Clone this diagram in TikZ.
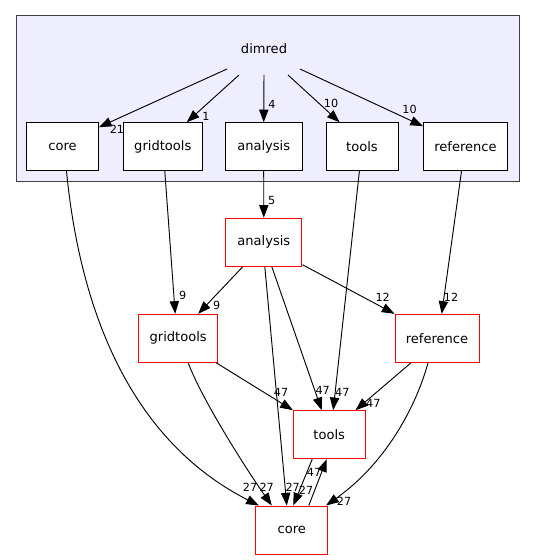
\documentclass[tikz,border=0pt]{standalone}
\usepackage{fontspec}
\setmainfont{DejaVu Sans}
\usetikzlibrary{arrows.meta,calc}
\definecolor{clfill}{HTML}{EEEEFF}
\definecolor{clline}{HTML}{404040}
\begin{document}
\begin{tikzpicture}[x=0.75pt,y=-0.75pt,
  inbox/.style={draw=black,fill=white,line width=0.75pt,inner sep=0pt,minimum height=36pt,font=\fontsize{9.8}{12}\selectfont},
  outbox/.style={draw=red,fill=white,line width=0.75pt,inner sep=0pt,minimum height=36pt,font=\fontsize{9.8}{12}\selectfont},
  edge/.style={draw=black,line width=0.7pt,-{Triangle[length=9.5pt,width=7pt]}},
  lbl/.style={inner sep=0pt,font=\fontsize{8.4}{10}\selectfont}]
\useasboundingbox (0,0) rectangle (535,560);
% cluster
\node[draw=clline,fill=clfill,line width=0.75pt,inner sep=0pt,minimum width=377.25pt,minimum height=123.75pt] (cluster) at (267.5,98.5) {};
\node[inner sep=0pt,font=\fontsize{9.8}{12}\selectfont] (dimred) at (264,49) {dimred};
% inner nodes
\node[inbox,minimum width=53.75pt] (icore) at (62.5,146.7) {core};
\node[inbox,minimum width=59.25pt] (igrid) at (162.8,146.7) {gridtools};
\node[inbox,minimum width=57.6pt] (iana) at (263.7,146.7) {analysis};
\node[inbox,minimum width=54pt] (itools) at (362,146.7) {tools};
\node[inbox,minimum width=63pt] (iref) at (465.5,146.7) {reference};
% outer nodes
\node[outbox,minimum width=57.2pt] (oana) at (263.8,242.2) {analysis};
\node[outbox,minimum width=59.25pt] (ogrid) at (178.2,338.3) {gridtools};
\node[outbox,minimum width=63pt] (oref) at (437,338.3) {reference};
\node[outbox,minimum width=53.75pt] (otools) at (329.2,434.7) {tools};
\node[outbox,minimum width=53.75pt] (ocore) at (291.8,530) {core};
% edges from dimred
\draw[edge] ($(dimred)+(-37,20)$) -- ($(icore.north east)+(0,5)$);
\draw[edge] ($(dimred)+(-25,26)$) -- ($(igrid.north)+(24,0)$);
\draw[edge] ($(dimred)+(0,26)$) -- (iana.north);
\draw[edge] ($(dimred)+(24,26)$) -- ($(itools.north)+(-22.4,0)$);
\draw[edge] ($(dimred)+(36,20)$) -- ($(iref.north west)+(0,4)$);
\node[lbl] (l21) at (117,129) {21};
\node[lbl] (l1) at (206,116) {1};
\node[lbl] (l4) at (272,104) {4};
\node[lbl] (l10a) at (331,103) {10};
\node[lbl] (l10b) at (409.6,109) {10};
% inner to outer
\draw[edge] (iana.south) -- (oana.north);
\node[lbl] (l5) at (271.7,200) {5};
\draw[edge] ($(igrid.south)+(2,0)$) -- ($(ogrid.north)+(-3,0)$);
\node[lbl] (l9a) at (182.7,295) {9};
\draw[edge] ($(iref.south)+(-4,0)$) -- ($(oref.north)+(4.7,0)$);
\node[lbl] (l12b) at (451,297.7) {12};
\draw[edge] ($(itools.south)+(-2.6,0)$) -- ($(otools.north)+(4,0)$);
\node[lbl] (l47c) at (342.3,392.7) {47};
\draw[edge] ($(icore.south)+(4,0)$) .. controls (80,310) and (130,440) .. ($(ocore.north)+(-33,0)$);
\node[lbl] (l27a) at (250,487.3) {27};
% outer analysis edges
\draw[edge] ($(oana.south)+(-21,0)$) -- ($(ogrid.north)+(20,0)$);
\node[lbl] (l9b) at (216.7,305.7) {9};
\draw[edge] ($(oana.south east)+(0,-2)$) -- (oref.north west);
\node[lbl] (l12a) at (382.7,297.7) {12};
\draw[edge] ($(oana.south)+(8,0)$) -- ($(otools.north)+(-7.5,0)$);
\node[lbl] (l47b) at (322.7,390) {47};
\draw[edge] ($(oana.south)+(1,0)$) -- ($(ocore.north)+(-5,0)$);
\node[lbl] (l27c) at (292.7,487.3) {27};
% gridtools edges
\draw[edge] ($(ogrid.south east)+(-2,0)$) -- (otools.north west);
\node[lbl] (l47a) at (281,392.7) {47};
\draw[edge] ($(ogrid.south)+(10,0)$) .. controls (200,395) and (240,460) .. ($(ocore.north)+(-20,0)$);
\node[lbl] (l27b) at (266.7,487.3) {27};
% reference edges
\draw[edge] ($(oref.south)+(-26,0)$) -- ($(otools.north east)+(-10,0)$);
\node[lbl] (l47d) at (373.3,403.3) {47};
\draw[edge] ($(oref.south)+(-9,0)$) .. controls (418,400) and (390,460) .. ($(ocore.north east)+(-2,0)$);
\node[lbl] (l27e) at (344,501.7) {27};
% tools <-> core
\draw[edge] ($(otools.south)+(-17,0)$) -- ($(ocore.north)+(1.5,0)$);
\node[lbl] (l27d) at (306,490.7) {27};
\draw[edge] ($(ocore.north)+(17,0)$) -- ($(otools.south)+(-2.5,0)$);
\node[lbl] (l47e) at (314,472.7) {47};
\end{tikzpicture}
\end{document}
